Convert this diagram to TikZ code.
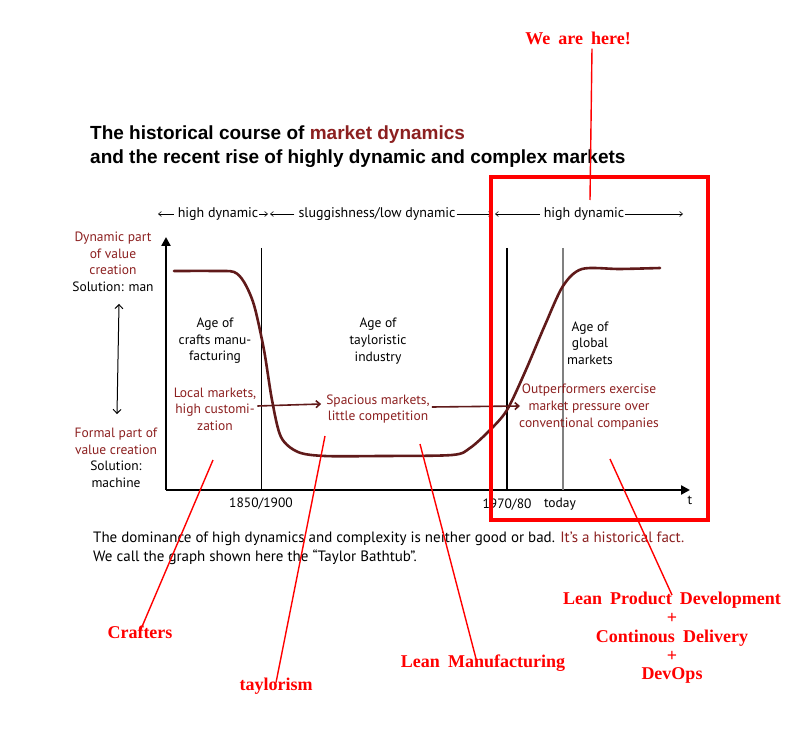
\documentclass[tikz,border=0pt]{standalone}
\usepackage{fontspec}
\setmainfont{PT Sans}
\newfontfamily\titlefont{Liberation Sans}
\newfontfamily\notefont[WordSpace=1.8]{Liberation Serif}
\usetikzlibrary{positioning,arrows.meta}

\definecolor{darkred}{RGB}{140,32,32}
\definecolor{curvered}{RGB}{96,26,26}

\newcommand*{\xorig}{166}
\newcommand*{\yorig}{490}
\newcommand*{\xend}{690}
\newcommand*{\ytop}{237}

\begin{document}
\begin{tikzpicture}
[
	x=1pt,
	y=-1pt,
	lbl/.style={font=\fontsize{13.5}{16.6}\selectfont,align=center,inner sep=0pt},
	dlbl/.style={lbl,text=darkred},
	note/.style={font=\notefont\bfseries\fontsize{18}{19.5}\selectfont,text=red,inner sep=0pt,align=center},
	pointer/.style={red,line width=1.4pt},
	rowarrow/.style={-{Straight Barb[length=3pt,width=5pt]},line width=0.6pt},
	pusharrow/.style={-{Straight Barb[length=4pt,width=7pt]},curvered,line width=1.6pt},
	era/.style={line width=0.6pt}
]

	\useasboundingbox (0,0) rectangle (801,730);

	% title
	\node[anchor=base west,inner sep=0pt,font=\titlefont\bfseries\fontsize{19}{20}\selectfont] (title1) at (90,140) {The historical course of \textcolor{darkred}{market dynamics}};
	\node[anchor=base west,inner sep=0pt,font=\titlefont\bfseries\fontsize{19}{20}\selectfont] (title2) at (90,164) {and the recent rise of highly dynamic and complex markets};

	% phases on top
	\node[lbl,font=\fontsize{14}{16}\selectfont] (hdleft) at (218,214) {high dynamic};
	\node[lbl,font=\fontsize{14}{16}\selectfont] (sluggish) at (377,214) {sluggishness/low dynamic};
	\node[lbl,font=\fontsize{14}{16}\selectfont] (hdright) at (584,214) {high dynamic};
	\coordinate (p1) at (158,214);
	\coordinate (p2) at (268,214);
	\coordinate (p3) at (270,214);
	\coordinate (p4) at (492,214);
	\coordinate (p5) at (495,214);
	\coordinate (p6) at (683,214);
	\draw[rowarrow] ([xshift=-4pt]hdleft.west) -- (p1);
	\draw[rowarrow] ([xshift=1pt]hdleft.east) -- (p2);
	\draw[rowarrow] ([xshift=-4pt]sluggish.west) -- (p3);
	\draw[rowarrow] ([xshift=1pt]sluggish.east) -- (p4);
	\draw[rowarrow] ([xshift=-4pt]hdright.west) -- (p5);
	\draw[rowarrow] ([xshift=1pt]hdright.east) -- (p6);

	% axes
	\draw[-{Triangle[length=9pt,width=9pt]},line width=2.4pt] (\xorig,\yorig) -- (\xend,\yorig) node[lbl,anchor=north,yshift=-5pt] (t) {t};
	\draw[-{Triangle[length=9pt,width=9pt]},line width=2.4pt] (\xorig,\yorig) -- (\xorig,\ytop);

	% eras
	\draw[era] (261,248) -- (261,\yorig) node[lbl,anchor=north,yshift=-8pt] (y1850) {1850/1900};
	\draw[line width=1.4pt] (507,248) -- (507,\yorig) node[lbl,anchor=north,yshift=-8pt] (y1970) {1970/80};
	\draw[gray,line width=1.4pt] (563,248) -- (563,\yorig);
	\node[lbl,anchor=north] (today) at (560,498) {today};

	% bathtub
	\draw[curvered,line width=2.6pt,line cap=round,smooth,tension=0.5] plot coordinates {
		(174,271) (215,271) (234,272) (244,282) (254,305) (264,350) (272,400)
		(281,437) (298,452) (325,456) (380,456) (452,455) (470,448) (490,430)
		(507,410) (525,372) (545,325) (563,286) (582,269) (620,269) (660,268)};

	% left side
	\node[lbl] (dynpart) at (113,262) {\textcolor{darkred}{Dynamic part}\\\textcolor{darkred}{of value}\\\textcolor{darkred}{creation}\\Solution: man};
	\node[lbl] (formpart) at (116,458) {\textcolor{darkred}{Formal part of}\\\textcolor{darkred}{value creation}\\Solution:\\machine};
	\draw[{Straight Barb[length=4pt,width=8pt]}-{Straight Barb[length=4pt,width=8pt]},line width=1pt] (dynpart.south) ++(6,12) coordinate (dtop) (formpart.north) ++(1,-14) coordinate (dbot) (dtop) -- (dbot);

	% ages
	\node[lbl] (crafts) at (215,341) {Age of\\crafts manu-\\facturing};
	\node[lbl] (taylor) at (378,341) {Age of\\tayloristic\\industry};
	\node[lbl] (global) at (590,343) {Age of\\global\\markets};

	% markets
	\node[dlbl] (local) at (215,409) {Local markets,\\high customi-\\zation};
	\node[dlbl] (spacious) at (378,409) {Spacious markets,\\little competition};
	\node[dlbl] (outperf) at (589,407) {Outperformers exercise\\market pressure over\\conventional companies};
	\draw[pusharrow] ([xshift=1pt]local.east |- 0,406) -- ([xshift=-5pt]spacious.west |- 0,404);
	\draw[pusharrow] ([xshift=2pt]spacious.east |- 0,407) -- ([xshift=1pt]outperf.west |- 0,406);

	% text below
	\node[anchor=base west,inner sep=0pt,font=\fontsize{15}{19}\selectfont,align=left] (bottom) at (93,561) {The dominance of high dynamics and complexity is neither good or bad. \textcolor{darkred}{It's a historical fact.}\\We call the graph shown here the \char"201CTaylor Bathtub\char"201D.};

	% we are here
	\draw[red,line width=3.5pt] (491,177) rectangle (708,520);
	\node[note] (here) at (578,38) {We are here!};
	\coordinate (herept) at (590,200);
	\draw[pointer] ([xshift=14pt,yshift=-4pt]here.south) -- (herept);

	% who is where
	\node[note] (crafters) at (140,632) {Crafters};
	\node[note] (taylorism) at (276,686) {taylorism};
	\node[note] (leanman) at (483,663) {Lean Manufacturing};
	\node[note,font=\notefont\bfseries\fontsize{18}{18.8}\selectfont] (leanpd) at (672,638) {Lean Product Development\\+\\Continous Delivery\\+\\DevOps};
	\coordinate (crafterspt) at (213,460);
	\coordinate (taylorpt) at (325,436);
	\coordinate (leanmanpt) at (420,444);
	\coordinate (leanpdpt) at (610,459);
	\draw[pointer] (crafterspt) -- ([yshift=-6pt]crafters.north);
	\draw[pointer] (taylorpt) -- ([yshift=-5pt]taylorism.north);
	\draw[pointer] (leanmanpt) -- ([yshift=-8pt,xshift=-6pt]leanman.north);
	\draw[pointer] (leanpdpt) -- ([yshift=-3pt]leanpd.north);

\end{tikzpicture}
\end{document}
